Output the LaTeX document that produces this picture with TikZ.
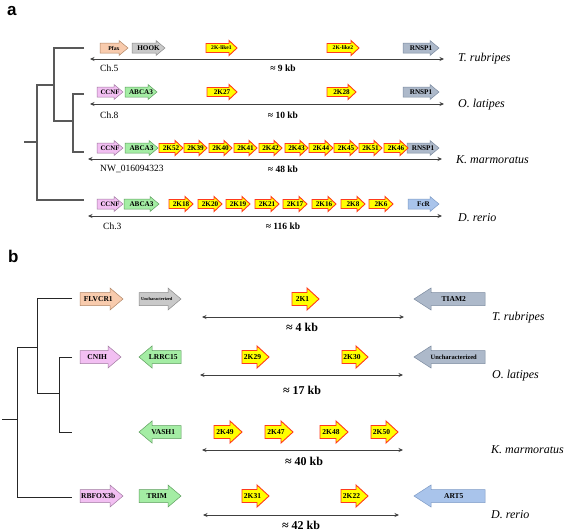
\documentclass[tikz,border=0pt]{standalone}
\usepackage{fontspec}
\setmainfont{Liberation Serif}
\newfontfamily\labsans{Liberation Sans}
\usetikzlibrary{arrows.meta}
\newcommand\FS[1]{\fontsize{#1}{#1}\selectfont}
\definecolor{cyel}{HTML}{FFFF00}
\definecolor{cyelb}{HTML}{FF3A1A}
\definecolor{cpea}{HTML}{F8CBAD}
\definecolor{cpeab}{HTML}{B08565}
\definecolor{cgry}{HTML}{C9C9C9}
\definecolor{cgryb}{HTML}{8A8A8A}
\definecolor{cbgr}{HTML}{ADB9CA}
\definecolor{cbgrb}{HTML}{7C8BA0}
\definecolor{cpnk}{HTML}{F2BFF2}
\definecolor{cpnkb}{HTML}{A07AA0}
\definecolor{cgrn}{HTML}{A4EDA4}
\definecolor{cgrnb}{HTML}{5E9E5E}
\definecolor{clbl}{HTML}{A9C4EB}
\definecolor{clblb}{HTML}{7E9BC6}
\newcommand\ArrH{7.5}
\newcommand\Arrh{4.5}
\newcommand\ArrL{8}
\newcommand\LabS{0}
\newcommand\GF{7.2}
% right-pointing gene: name, x1, x2, y, style, label
\newcommand\geneR[6]{%
  \draw[#5] (#2,#4-\Arrh) -- (#3-\ArrL,#4-\Arrh) -- (#3-\ArrL,#4-\ArrH) -- (#3,#4)
    -- (#3-\ArrL,#4+\ArrH) -- (#3-\ArrL,#4+\Arrh) -- (#2,#4+\Arrh) -- cycle;
  \node[glab] (#1) at ({(#2+#3-\LabS*\ArrL)/2},#4) {#6};}
% left-pointing gene
\newcommand\geneL[6]{%
  \draw[#5] (#3,#4-\Arrh) -- (#2+\ArrL,#4-\Arrh) -- (#2+\ArrL,#4-\ArrH) -- (#2,#4)
    -- (#2+\ArrL,#4+\ArrH) -- (#2+\ArrL,#4+\Arrh) -- (#3,#4+\Arrh) -- cycle;
  \node[glab] (#1) at ({(#2+#3+\LabS*\ArrL)/2},#4) {#6};}
\tikzset{
  glab/.style={inner sep=0pt, font=\bfseries\FS{\GF}},
  yel/.style={fill=cyel, draw=cyelb, line width=0.9pt},
  pea/.style={fill=cpea, draw=cpeab, line width=0.5pt},
  gry/.style={fill=cgry, draw=cgryb, line width=0.5pt},
  bgr/.style={fill=cbgr, draw=cbgrb, line width=0.5pt},
  pnk/.style={fill=cpnk, draw=cpnkb, line width=0.5pt},
  grn/.style={fill=cgrn, draw=cgrnb, line width=0.5pt},
  lbl/.style={fill=clbl, draw=clblb, line width=0.5pt},
  sline/.style={draw=black!75, line width=0.9pt, {Stealth[length=4.5pt,width=4pt]}-{Stealth[length=4.5pt,width=4pt]}},
  treea/.style={draw=black!65, line width=1.4pt},
  treeb/.style={draw=black!85, line width=1pt},
  chr/.style={inner sep=0pt, anchor=west, font=\FS{9.5}},
  kba/.style={inner sep=0pt, font=\bfseries\FS{9.5}},
  kbb/.style={inner sep=0pt, font=\bfseries\FS{12}},
  sp/.style={inner sep=0pt, anchor=west, font=\itshape\FS{12}},
  plab/.style={inner sep=0pt, anchor=base west, font=\labsans\bfseries\FS{17}}
}
\begin{document}
\begin{tikzpicture}[x=1pt,y=-1pt]
\useasboundingbox (0,0) rectangle (567,531);
\fill[white] (0,0) rectangle (567,531);

% ===== panel a =====
\node[plab] (pa) at (7,15) {a};
% tree
\draw[treea] (84,48) -- (54,48) -- (54,121) -- (73,121);
\draw[treea] (84,94) -- (73,94) -- (73,152) -- (84,152);
\draw[treea] (54,85) -- (37,85) -- (37,200) -- (84,200);
\draw[treea] (24,142) -- (37,142);

% row 1
\renewcommand\ArrH{7.5}\renewcommand\Arrh{5}\renewcommand\ArrL{9}
\geneR{pfax}{100}{128}{48}{pea}{\FS{5.8}Pfax}
\geneR{hook}{132}{165}{48}{gry}{HOOK}
\geneR{rnspa}{403}{439}{48}{bgr}{RNSP1}
\renewcommand\Arrh{4.5}\renewcommand\ArrL{8}
\geneR{kla}{206}{237}{48}{yel}{\FS{5.6}2K-like1}
\geneR{klb}{327}{359}{48}{yel}{\FS{5.6}2K-like2}
\coordinate (a1l) at (90,59); \coordinate (a1r) at (444,59);
\draw[sline] (a1l) -- (a1r);
\node[chr] (ch5) at (100,68) {Ch.5};
\node[kba] (kb9) at (283,68) {≈ 9 kb};
\node[sp] (spa1) at (458,59) {T. rubripes};

% row 2
\renewcommand\ArrH{7.5}\renewcommand\Arrh{5}\renewcommand\ArrL{9}
\geneR{ccnfa}{97}{123}{92}{pnk}{\FS{6.8}CCNF}
\geneR{abcaa}{125}{157}{92}{grn}{ABCA3}
\geneR{rnspb}{403}{439}{92}{bgr}{RNSP1}
\renewcommand\Arrh{4.5}\renewcommand\ArrL{8}
\geneR{k27}{207}{237}{92}{yel}{2K27}
\geneR{k28}{327}{356}{92}{yel}{2K28}
\coordinate (a2l) at (90,104); \coordinate (a2r) at (444,104);
\draw[sline] (a2l) -- (a2r);
\node[chr] (ch8) at (100,115) {Ch.8};
\node[kba] (kb10) at (283,115) {≈ 10 kb};
\node[sp] (spa2) at (458,105) {O. latipes};

% row 3
\renewcommand\ArrH{7.5}\renewcommand\Arrh{5}\renewcommand\ArrL{9}
\geneR{ccnfb}{97}{123}{148}{pnk}{\FS{6.8}CCNF}
\geneR{abcab}{125}{158}{148}{grn}{ABCA3}
\geneR{rnspc}{407}{439}{148}{bgr}{RNSP1}
\renewcommand\Arrh{4.5}\renewcommand\ArrL{8}
\geneR{k52}{159}{183}{148}{yel}{2K52}
\geneR{k39}{184}{207}{148}{yel}{2K39}
\geneR{k40}{209}{232}{148}{yel}{2K40}
\geneR{k41}{234}{257}{148}{yel}{2K41}
\geneR{k42}{259}{282}{148}{yel}{2K42}
\geneR{k43}{285}{308}{148}{yel}{2K43}
\geneR{k44}{309}{333}{148}{yel}{2K44}
\geneR{k45}{334}{358}{148}{yel}{2K45}
\geneR{k51}{359}{382}{148}{yel}{2K51}
\geneR{k46}{384}{408}{148}{yel}{2K46}
\coordinate (a3l) at (88,159); \coordinate (a3r) at (442,159);
\draw[sline] (a3l) -- (a3r);
\node[chr] (nw) at (100,169) {NW\_016094323};
\node[kba] (kb48) at (283,169) {≈ 48 kb};
\node[sp] (spa3) at (456,160) {K. marmoratus};

% row 4
\renewcommand\ArrH{7.5}\renewcommand\Arrh{5}\renewcommand\ArrL{9}
\geneR{ccnfc}{97}{123}{204}{pnk}{\FS{6.8}CCNF}
\geneR{abcac}{124}{159}{204}{grn}{ABCA3}
\geneR{fcr}{408}{439}{204}{lbl}{FcR}
\renewcommand\Arrh{4.5}\renewcommand\ArrL{8}
\geneR{k18}{169}{193}{204}{yel}{2K18}
\geneR{k20}{198}{222}{204}{yel}{2K20}
\geneR{k19}{226}{250}{204}{yel}{2K19}
\geneR{k21}{255}{279}{204}{yel}{2K21}
\geneR{k17}{283}{307}{204}{yel}{2K17}
\geneR{k16}{312}{336}{204}{yel}{2K16}
\geneR{k8}{341}{365}{204}{yel}{2K8}
\geneR{k6}{369}{393}{204}{yel}{2K6}
\coordinate (a4l) at (88,216); \coordinate (a4r) at (442,216);
\draw[sline] (a4l) -- (a4r);
\node[chr] (ch3) at (103,226) {Ch.3};
\node[kba] (kb116) at (283,226) {≈ 116 kb};
\node[sp] (spa4) at (458,218) {D. rerio};

% ===== panel b =====
\node[plab] (pb) at (8,262) {b};
\draw[treeb] (72,298) -- (37,298) -- (37,393) -- (59,393);
\draw[treeb] (72,357) -- (59,357) -- (59,432) -- (72,432);
\draw[treeb] (37,347) -- (17,347) -- (17,497) -- (72,497);
\draw[treeb] (2,419) -- (17,419);

\renewcommand\LabS{0.5}
\renewcommand\GF{7.5}
% row 1
\renewcommand\ArrH{11}\renewcommand\Arrh{6.5}\renewcommand\ArrL{13}
\geneR{flv}{80}{123}{299}{pea}{FLVCR1}
\geneR{unca}{139}{181}{299}{gry}{\FS{4.4}Uncharacterized}
\renewcommand\ArrL{12}
\geneR{kb1}{292}{319}{299}{yel}{2K1}
\renewcommand\ArrL{17}
\geneL{tiam}{414}{485}{299}{bgr}{TIAM2}
\coordinate (b1l) at (202,317); \coordinate (b1r) at (404,317);
\draw[sline] (b1l) -- (b1r);
\node[kbb] (kb4) at (302,327) {≈ 4 kb};
\node[sp] (spb1) at (492,318) {T. rubripes};

% row 2
\renewcommand\ArrL{13}
\geneR{cnih}{80}{121}{357}{pnk}{CNIH}
\geneL{lrrc}{139}{181}{357}{grn}{LRRC15}
\renewcommand\ArrL{12}
\geneR{kb29}{242}{269}{357}{yel}{2K29}
\geneR{kb30}{342}{368}{357}{yel}{2K30}
\renewcommand\ArrL{17}
\geneL{uncb}{414}{485}{357}{bgr}{\FS{6.5}Uncharacterized}
\coordinate (b2l) at (200,375); \coordinate (b2r) at (403,375);
\draw[sline] (b2l) -- (b2r);
\node[kbb] (kb17) at (302,390) {≈ 17 kb};
\node[sp] (spb2) at (492,376) {O. latipes};

% row 3
\renewcommand\ArrL{13}
\geneL{vash}{139}{181}{432}{grn}{VASH1}
\renewcommand\ArrL{12}
\geneR{kb49}{214}{242}{432}{yel}{2K49}
\geneR{kb47}{265}{293}{432}{yel}{2K47}
\geneR{kb48}{320}{348}{432}{yel}{2K48}
\geneR{kb50}{371}{398}{432}{yel}{2K50}
\coordinate (b3l) at (202,450); \coordinate (b3r) at (403,450);
\draw[sline] (b3l) -- (b3r);
\node[kbb] (kb40) at (304,461) {≈ 40 kb};
\node[sp] (spb3) at (491,450) {K. marmoratus};

% row 4
\renewcommand\ArrL{13}
\geneR{rbf}{80}{123}{496}{pnk}{RBFOX3b}
\geneR{trim}{139}{181}{496}{grn}{TRIM}
\renewcommand\ArrL{12}
\geneR{kb31}{242}{269}{496}{yel}{2K31}
\geneR{kb22}{341}{368}{496}{yel}{2K22}
\renewcommand\ArrL{17}
\geneL{art}{414}{485}{496}{lbl}{ART5}
\coordinate (b4l) at (203,515); \coordinate (b4r) at (399,515);
\draw[sline] (b4l) -- (b4r);
\node[kbb] (kb42) at (301,525) {≈ 42 kb};
\node[sp] (spb4) at (491,515) {D. rerio};
\end{tikzpicture}
\end{document}
